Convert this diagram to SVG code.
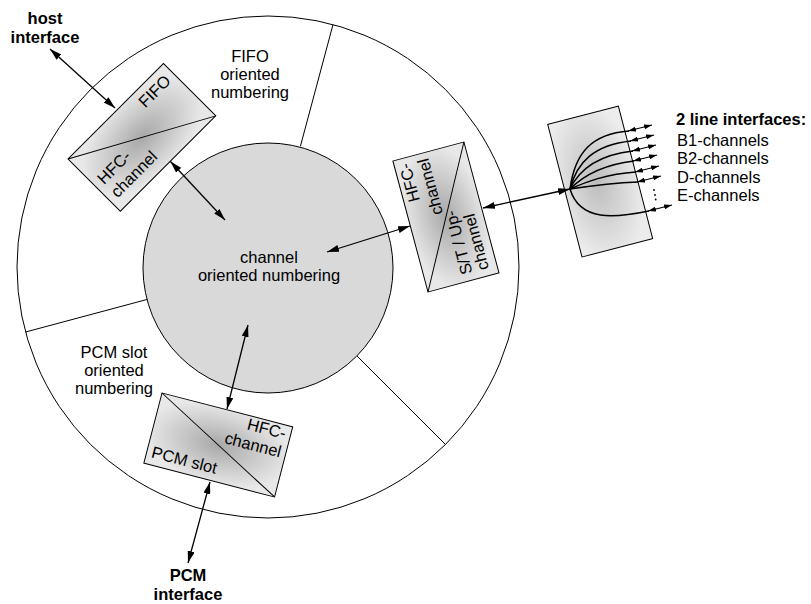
<svg xmlns="http://www.w3.org/2000/svg" width="811" height="604" viewBox="0 0 811 604">
<style>
text{font-family:"Liberation Sans",Arial,sans-serif;font-size:16.5px;fill:#000}
.b{font-weight:bold}
.m{text-anchor:middle}
.e{text-anchor:end}
.ln{fill:none;stroke:#000;stroke-width:1}
.box{fill:url(#bg);stroke:#000;stroke-width:1}
.lbox{fill:url(#lg);stroke:#000;stroke-width:1}
.arr{fill:none;stroke:#000;stroke-width:1.3;marker-start:url(#ah);marker-end:url(#ah)}
.sarr{fill:none;stroke:#000;stroke-width:1.1;marker-start:url(#sh);marker-end:url(#sh)}
.fan{fill:none;stroke:#000;stroke-width:1.5}
</style>
<defs>
<radialGradient id="bg" cx="50%" cy="50%" r="55%">
<stop offset="0" stop-color="#a8a8a8"/>
<stop offset="1" stop-color="#e8e8e8"/>
</radialGradient>
<radialGradient id="lg" cx="50%" cy="45%" r="60%">
<stop offset="0" stop-color="#bdbdbd"/>
<stop offset="1" stop-color="#ececec"/>
</radialGradient>
<marker id="ah" viewBox="0 0 12 7" refX="12" refY="3.5" markerWidth="12" markerHeight="7" markerUnits="userSpaceOnUse" orient="auto-start-reverse">
<path d="M0,0 L12,3.5 L0,7 z" fill="#000"/>
</marker>
<marker id="sh" viewBox="0 0 8 5" refX="8" refY="2.5" markerWidth="8" markerHeight="5" markerUnits="userSpaceOnUse" orient="auto-start-reverse">
<path d="M0,0 L8,2.5 L0,5 z" fill="#000"/>
</marker>
</defs>
<rect width="811" height="604" fill="#fff"/>

<g id="outer-ring">
<circle cx="268" cy="267" r="251" fill="#fff" stroke="#000" stroke-width="1"/>
<line class="ln" x1="300.4" y1="146.3" x2="333" y2="24.6"/>
<line class="ln" x1="356.4" y1="355.4" x2="445.5" y2="444.5"/>
<line class="ln" x1="147.3" y1="299.4" x2="25.6" y2="332"/>
<text class="m" x="250" y="62">FIFO</text>
<text class="m" x="250" y="80">oriented</text>
<text class="m" x="250" y="98">numbering</text>
<text class="m" x="114" y="358">PCM slot</text>
<text class="m" x="114" y="376">oriented</text>
<text class="m" x="114" y="394">numbering</text>
</g>

<g id="inner-circle">
<circle cx="268" cy="268" r="125" fill="#d9d9d9" stroke="#000" stroke-width="1"/>
<text class="m" x="269" y="263">channel</text>
<text class="m" x="269" y="281">oriented numbering</text>
</g>

<g id="fifo-box" transform="translate(68,159) rotate(-45)">
<rect class="box" x="0" y="0" width="135" height="74"/>
<line class="ln" x1="0" y1="0" x2="135" y2="74"/>
<text class="e" x="128" y="19">FIFO</text>
<text x="7" y="44">HFC-</text>
<text x="7" y="63">channel</text>
</g>

<g id="st-box" transform="translate(428,292) rotate(-105)">
<rect class="box" x="0" y="0" width="135.6" height="73.5"/>
<line class="ln" x1="0" y1="0" x2="135.6" y2="73.5"/>
<text class="e" x="130" y="16">HFC-</text>
<text class="e" x="130" y="35">channel</text>
<text x="7" y="48">S/T / Up-</text>
<text x="7" y="65">channel</text>
</g>

<g id="pcm-box" transform="translate(162,393) rotate(14.5)">
<rect class="box" x="0" y="0" width="135" height="72.5"/>
<line class="ln" x1="0" y1="0" x2="135" y2="72.5"/>
<text class="e" x="130" y="14">HFC-</text>
<text class="e" x="130" y="33">channel</text>
<text x="5" y="65">PCM slot</text>
</g>

<g id="line-box">
<rect class="lbox" x="0" y="0" width="137" height="73" transform="translate(582,257) rotate(-104.5)"/>
<path class="fan" d="M570,189 C575,152 592,134 629,131"/>
<path class="fan" d="M570,189 C577,162 594,145 631,141"/>
<path class="fan" d="M570,189 C579,170 597,155 633,151"/>
<path class="fan" d="M570,189 C582,177 600,165 634,161"/>
<path class="fan" d="M570,189 C586,182 606,174 636,172"/>
<path class="fan" d="M570,189 C590,186 612,183 638,182"/>
<path class="fan" d="M570,189 C580,222 615,218 649,211"/>
<circle cx="654" cy="190" r="0.9" fill="#000"/>
<circle cx="655" cy="195" r="0.9" fill="#000"/>
<circle cx="655.7" cy="199.5" r="0.9" fill="#000"/>
</g>

<g id="labels">
<text class="b m" x="45" y="24">host</text>
<text class="b m" x="45" y="43">interface</text>
<text class="b m" x="188" y="581">PCM</text>
<text class="b m" x="188" y="600">interface</text>
<text class="b" x="676" y="125">2 line interfaces:</text>
<text x="677" y="146">B1-channels</text>
<text x="677" y="164">B2-channels</text>
<text x="677" y="183">D-channels</text>
<text x="677" y="201">E-channels</text>
</g>

<g id="connectors">
<line class="arr" x1="50" y1="49" x2="115" y2="108"/>
<line class="arr" x1="170.5" y1="161.5" x2="225" y2="220"/>
<line class="arr" x1="327" y1="252" x2="410" y2="226"/>
<line class="arr" x1="483" y1="208" x2="570" y2="189"/>
<line class="arr" x1="248" y1="325" x2="227" y2="409"/>
<line class="arr" x1="210" y1="482" x2="188" y2="563"/>
<line class="sarr" x1="628" y1="131" x2="652" y2="125"/>
<line class="sarr" x1="630" y1="141" x2="654" y2="135"/>
<line class="sarr" x1="632" y1="151" x2="656" y2="145"/>
<line class="sarr" x1="633" y1="161" x2="657" y2="155"/>
<line class="sarr" x1="635" y1="172" x2="659" y2="166"/>
<line class="sarr" x1="637" y1="182" x2="661" y2="176"/>
<line class="sarr" x1="648" y1="211" x2="672" y2="205"/>
</g>
</svg>
